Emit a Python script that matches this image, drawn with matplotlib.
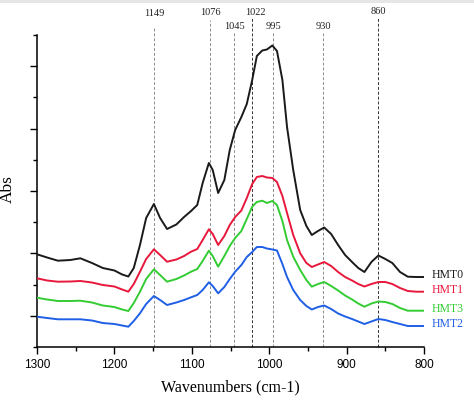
import matplotlib
matplotlib.use("Agg")
import matplotlib.pyplot as plt
from matplotlib.patches import Rectangle
from matplotlib.ticker import MultipleLocator, NullFormatter

# Dalga sayilari (cm-1), tum spektrumlar icin ortak
wavenumbers = [1300, 1287, 1273, 1257, 1244, 1229, 1215, 1200, 1190, 1182,
               1175, 1167, 1159, 1149, 1141, 1132, 1120, 1110, 1101, 1093,
               1086, 1078, 1073, 1066, 1058, 1051, 1044, 1036, 1029, 1022,
               1016, 1009, 1003, 996, 990, 983, 977, 969, 960, 952,
               945, 937, 929, 920, 911, 902, 893, 885, 877, 868,
               859, 850, 841, 831, 821, 810, 800]

# Absorbans (keyfi birim, kaydirilmis)
hmt0 = [92.7, 89.5, 86.3, 87, 88.7, 84, 79, 76.5, 72.5, 70.5,
        79, 102, 129, 143, 129, 118, 122.5, 130, 136, 142,
        164, 184, 177, 154, 167, 197, 217, 230, 243, 267,
        291, 296.5, 297.5, 301.5, 296, 267, 220, 177, 137, 121,
        112, 116, 119.5, 113, 102, 92, 85, 79, 75, 85,
        91.5, 88, 84, 75, 70.3, 70, 70]
hmt1 = [68.7, 66.5, 65.3, 65.5, 66, 64.5, 62, 60.5, 57.5, 55.3,
        63, 75.3, 88, 97.7, 92, 85.3, 87.5, 91, 95.3, 98,
        107, 117.7, 113, 102, 111, 122, 130, 136.5, 149, 163,
        170, 171, 169.5, 169, 165, 151, 134, 112, 93.7, 84,
        80, 82.5, 85, 81, 75, 70, 66.5, 63, 60.5, 63,
        65, 65, 63, 59, 56, 55.3, 55.3]
hmt3 = [49.3, 47.5, 46, 46, 46.3, 44.5, 41.5, 40, 37.5, 36,
        44, 55.3, 68, 77.7, 72, 65.3, 68, 71.5, 75.3, 78,
        86, 96.3, 91, 80.3, 91, 101, 109, 116, 128, 140.3,
        145, 146.3, 144, 146, 142, 126, 107, 90.3, 77, 67,
        60.3, 63, 65, 61, 56.5, 51.5, 47.5, 43.5, 40.3, 43.5,
        45.5, 45, 43, 39, 36.3, 36.3, 36.3]
hmt2 = [30.3, 29, 27.7, 27.7, 27.7, 26.5, 24, 23, 21.5, 20.3,
        26, 33.7, 43, 51, 47, 42, 44.5, 47, 49.7, 52,
        57, 64.7, 61, 53.7, 60, 68, 75.3, 82, 90, 95,
        100, 100, 98.5, 97.5, 96.5, 83, 70, 57, 47, 41,
        37.5, 40, 41.5, 38, 33.5, 30.5, 28, 25.5, 23, 25.5,
        28, 27, 25, 23, 21, 21, 21]

series_names = ["HMT0", "HMT1", "HMT3", "HMT2"]
series_values = [hmt0, hmt1, hmt3, hmt2]
colors = ["#1a1a1a", "#e8183c", "#33cc33", "#1f5fe6"]

# Isaretlenen pikler
peaks = [1149, 1076, 1045, 1022, 995, 930, 860]
peak_line_top = [319, 327, 314, 329, 314, 314, 329]
peak_label_y = [333, 334, 320, 334, 320, 320, 335]
peak_label_dx = [0, 0, 0, -4, 0, 0, -1]
peak_line_color = ["#8c8c8c", "#8c8c8c", "#8c8c8c", "#333333", "#8c8c8c", "#8c8c8c", "#333333"]

fig = plt.figure(figsize=(4.74, 4.05), dpi=100)
# ustteki ince gri serit
fig.patches.append(Rectangle((0, 1 - 2.5 / 405), 1, 2.5 / 405, transform=fig.transFigure,
                             facecolor="#e6e6e6", edgecolor="none"))
ax = fig.add_axes([0.0781, 0.1432, 0.8165, 0.7704])

serif = ["Liberation Serif", "DejaVu Serif"]

# Kesikli dikey cizgiler ve etiketleri
for w, top, ly, dx, c in zip(peaks, peak_line_top, peak_label_y, peak_label_dx, peak_line_color):
    ax.vlines(w, 0, top, colors=c, linestyles=(0, (3, 2)), linewidth=0.7, clip_on=False, zorder=1)
    ax.text(w + dx, ly, str(w), ha="center", va="center", fontsize=7.5,
            family=serif, color="#222222", clip_on=False)

# Spektrumlar
for name, vals, c in zip(series_names, series_values, colors):
    ax.plot(wavenumbers, vals, color=c, linewidth=1.4, zorder=3,
            solid_joinstyle="round", solid_capstyle="round")
    ax.text(790, vals[-1] + 2, name, color=c, fontsize=8.5, family=serif,
            ha="left", va="center", clip_on=False)

ax.set_xlim(1300, 800)
ax.set_ylim(0, 312)

ax.xaxis.set_major_locator(MultipleLocator(100))
ax.xaxis.set_minor_locator(MultipleLocator(50))
ax.yaxis.set_major_locator(MultipleLocator(62.4, offset=31.2))
ax.yaxis.set_minor_locator(MultipleLocator(31.2))
ax.yaxis.set_major_formatter(NullFormatter())

ax.tick_params(axis="x", which="major", direction="out", length=5, width=1, labelsize=8.5)
ax.tick_params(axis="x", which="minor", direction="out", length=3, width=1)
ax.tick_params(axis="y", which="major", direction="out", length=5, width=1)
ax.tick_params(axis="y", which="minor", direction="out", length=3, width=1)
for lbl in ax.get_xticklabels():
    lbl.set_family(["Liberation Sans", "DejaVu Sans"])

ax.spines["top"].set_visible(False)
ax.spines["right"].set_visible(False)
ax.spines["left"].set_linewidth(1.1)
ax.spines["bottom"].set_linewidth(1.1)

ax.set_xlabel("Wavenumbers (cm-1)", fontsize=11.5, family=serif, labelpad=6)
ax.set_ylabel("Abs", fontsize=12.5, family=serif)
ax.yaxis.set_label_coords(-0.054, 0.506)

fig.savefig("out.png", dpi=100, facecolor="white")
